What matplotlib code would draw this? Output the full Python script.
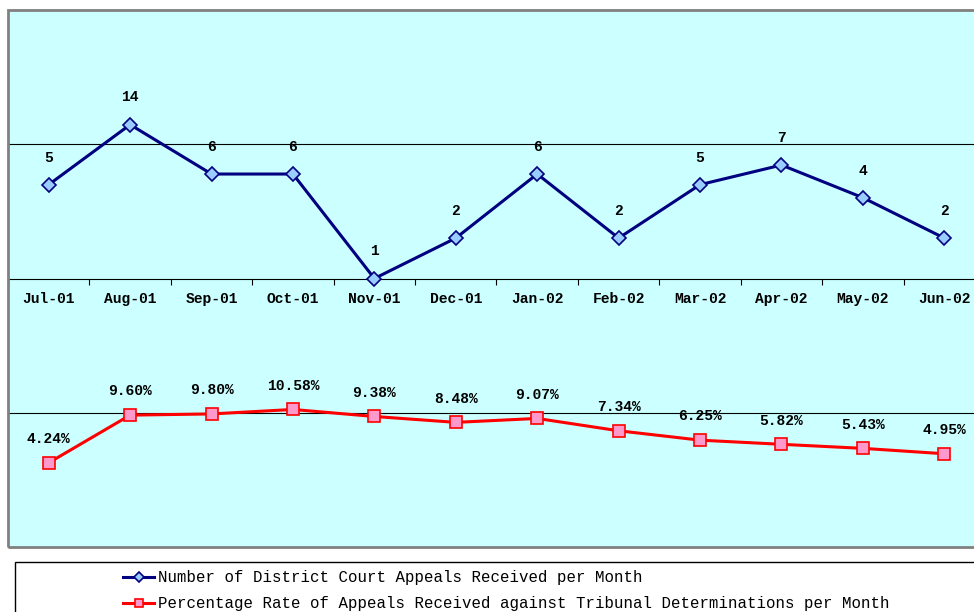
import numpy as np
import matplotlib.pyplot as plt
from matplotlib.patches import Rectangle

months = ["Jul-01", "Aug-01", "Sep-01", "Oct-01", "Nov-01", "Dec-01",
          "Jan-02", "Feb-02", "Mar-02", "Apr-02", "May-02", "Jun-02"]
appeals = [5, 14, 6, 6, 1, 2, 6, 2, 5, 7, 4, 2]
pct_rate = [4.24, 9.60, 9.80, 10.58, 9.38, 8.48, 9.07, 7.34, 6.25, 5.82, 5.43, 4.95]

plt.rcParams['font.family'] = ['Liberation Mono', 'DejaVu Sans Mono']

fig = plt.figure(figsize=(9.74, 6.12), dpi=100)
W, H = 974, 612
ax = fig.add_axes([8 / W, 1 - 547 / H, (985 - 8) / W, (547 - 10) / H])
ax.set_facecolor('#ccffff')

x = np.arange(len(months))
frac = np.array(pct_rate) / 100

l1, = ax.plot(x, appeals, color='#000080', lw=2.2, marker='D', ms=7,
              mfc='#99ccff', mec='#000080', mew=1.2, zorder=5,
              label="Number of District Court Appeals Received per Month")
l2, = ax.plot(x, frac, color='#ff0000', lw=2.2, marker='s', ms=8,
              mfc='#ff99cc', mec='#ff0000', mew=1.2, zorder=5,
              label="Percentage Rate of Appeals Received against Tribunal Determinations per Month")

ax.set_yscale('log')
ax.set_ylim(0.01, 100)
ax.set_xlim(-0.5, 11.5)

# gridlines
for g in (0.1, 10):
    ax.axhline(g, color='black', lw=0.8, zorder=1)

# category axis crossing at 1
for s in ['top', 'right', 'left']:
    ax.spines[s].set_visible(False)
ax.spines['bottom'].set_position(('data', 1))
ax.spines['bottom'].set_linewidth(0.8)
ax.add_patch(Rectangle((0, 0), 1, 1, transform=ax.transAxes, fill=False,
                       ec='#808080', lw=2, clip_on=False, zorder=6))

ax.set_yticks([])
ax.yaxis.set_minor_locator(plt.NullLocator())
ax.set_xticks(x)
ax.set_xticklabels(months, fontsize=10.5, fontweight='bold')
ax.tick_params(axis='x', which='major', length=0, pad=10)
ax.set_xticks(np.arange(-0.5, 12, 1), minor=True)
ax.tick_params(axis='x', which='minor', length=4, width=0.8, direction='out')

for xi, v in zip(x, appeals):
    ax.annotate(str(v), (xi, v), xytext=(0, 14.5), textcoords='offset points',
                ha='center', va='bottom', fontsize=10.5, fontweight='bold')
for xi, v, p in zip(x, frac, pct_rate):
    ax.annotate(f"{p:.2f}%", (xi, v), xytext=(0, 12), textcoords='offset points',
                ha='center', va='bottom', fontsize=10.5, fontweight='bold')

# legend box
fig.add_artist(Rectangle((15 / W, -0.2), 1, 0.2 + (612 - 562) / H,
                         transform=fig.transFigure, fill=False, ec='black', lw=1))
fig.legend(handles=[l1, l2], loc='upper left', bbox_to_anchor=(123 / W, 1 - 570 / H),
           frameon=False, fontsize=11.3, handlelength=2.0, handletextpad=0.2,
           borderpad=0, borderaxespad=0, labelspacing=0.72, markerscale=0.8)

fig.savefig('out.png', dpi=100)
